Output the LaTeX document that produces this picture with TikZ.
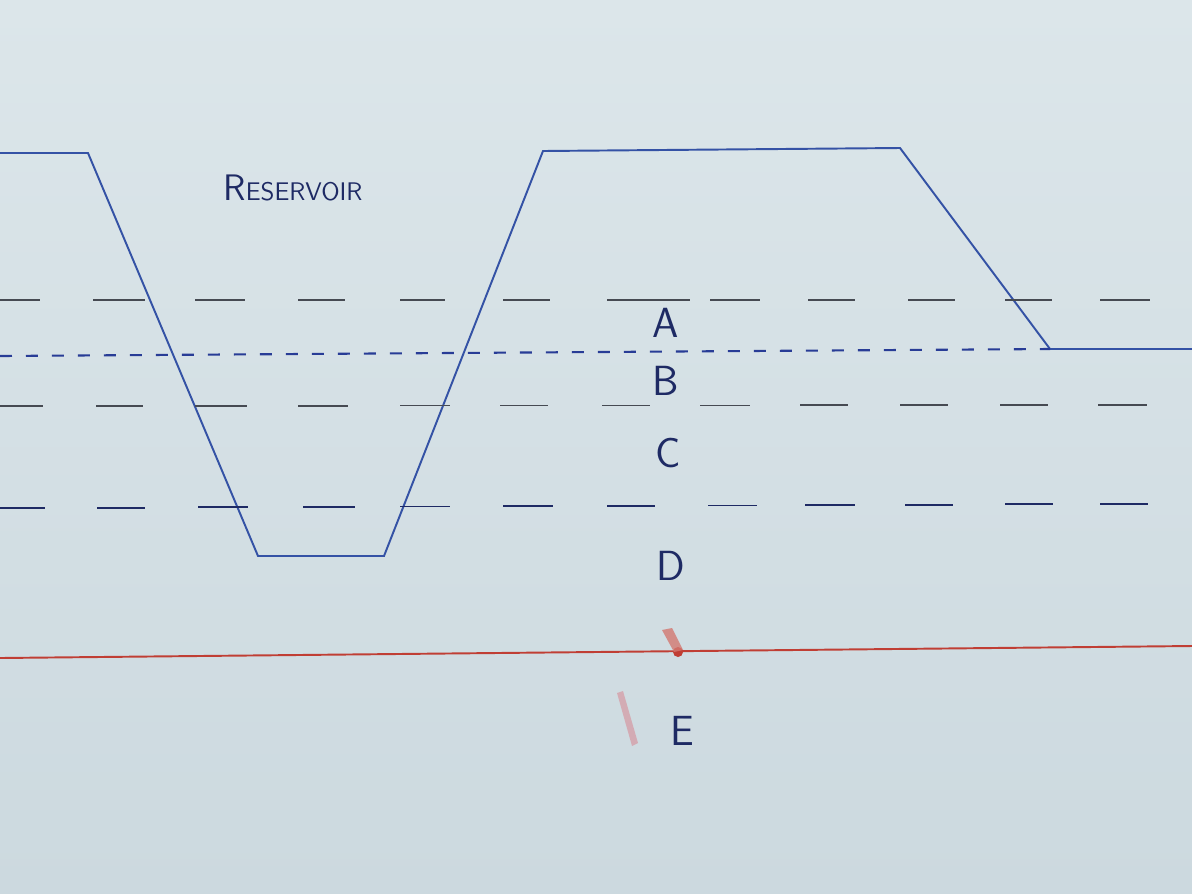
\documentclass[tikz,border=0pt]{standalone}
\usepackage{fontspec}
\begin{document}
\begin{tikzpicture}[x=0.02cm,y=-0.02cm,
  profile/.style={draw=prof,line width=1.1pt,line join=miter},
  graydash/.style={draw=pencil,line width=0.9pt},
  bluedash/.style={draw=inkdark,line width=1.0pt},
  fine/.style={draw=inkblue,line width=1.2pt,dash pattern=on 0.24cm off 0.28cm},
  label/.style={font=\sffamily\fontsize{24}{24}\selectfont,text=inkdark,inner sep=0pt},
  ]
\definecolor{paperA}{RGB}{220,230,234}
\definecolor{paperB}{RGB}{204,217,223}
\definecolor{prof}{RGB}{52,82,165}
\definecolor{pencil}{RGB}{70,74,82}
\definecolor{inkdark}{RGB}{30,42,100}
\definecolor{inkblue}{RGB}{40,60,150}
\definecolor{redline}{RGB}{192,62,52}
\definecolor{pink}{RGB}{215,140,150}
\useasboundingbox (0,0) rectangle (1192,893);
\shade[top color=paperA,bottom color=paperB] (0,0) rectangle (1192,893);
% ground profile
\draw[profile] (0,153) -- (88,153) -- (258,556) -- (384,556) -- (543,151) -- (900,148) -- (1050,349) -- (1192,349);
% dashed line at 300
\foreach \a/\b in {0/40,93/145,195/245,298/345,400/445,503/550,607/690,710/760,808/855,908/955,1005/1052,1100/1150}
  \draw[graydash] (\a,300) -- (\b,300);
% fine dashed (water level)
\draw[fine] (0,356) -- (1050,349);
% dashed line at 405
\foreach \a/\b in {0/43,96/143,195/247,298/348,400/450,500/548,602/650,700/750,800/848,900/948,1000/1048,1098/1147}
  \draw[graydash] (\a,{406-\a/1100}) -- (\b,{406-\a/1100});
% dashed line at 505
\foreach \a/\b in {0/45,97/145,198/248,303/355,400/450,503/553,607/655,708/757,805/855,905/953,1005/1053,1100/1148}
  \draw[bluedash] (\a,{508-4*\a/1100}) -- (\b,{508-4*\a/1100});
% red line
\draw[draw=redline,line width=1.1pt] (0,658) -- (1192,646);
\fill[redline] (678,652) circle (5);
\fill[redline!70,opacity=0.8] (662,630) -- (672,628) -- (683,650) -- (674,652) -- cycle;
\fill[pink,opacity=0.6] (617,693) -- (623,691) -- (638,743) -- (632,746) -- cycle;
% labels
\node[font=\sffamily,text=inkdark,inner sep=0pt] (res) at (293,188) {{\fontsize{21}{21}\selectfont R}{\fontsize{14.5}{14.5}\selectfont ESERVOIR}};
\node[label] (A) at (666,323) {A};
\node[label] (B) at (666,381) {B};
\node[label] (C) at (668,453) {C};
\node[label] (D) at (671,566) {D};
\node[label] (E) at (682,731) {E};
\end{tikzpicture}
\end{document}
